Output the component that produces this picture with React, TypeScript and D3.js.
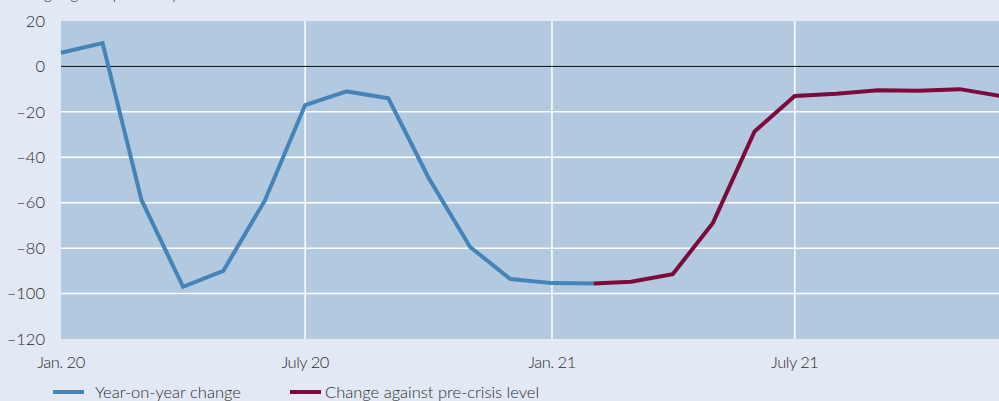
import React from 'react';
import * as d3 from 'd3';

const months = [
  '2020-01', '2020-02', '2020-03', '2020-04', '2020-05', '2020-06',
  '2020-07', '2020-08', '2020-09', '2020-10', '2020-11', '2020-12',
  '2021-01', '2021-02', '2021-03', '2021-04', '2021-05', '2021-06',
  '2021-07', '2021-08', '2021-09', '2021-10', '2021-11', '2021-12',
];

// year-on-year change, Jan. 20 - Feb. 21
const yoyValues = [6, 10.3, -58.8, -97, -90, -59, -17, -11, -14, -49, -79.5, -93.6, -95.4, -95.6];
// change against pre-crisis level, Feb. 21 - Dec. 21
const preCrisisValues = [-95.6, -94.8, -91.5, -68.9, -28.6, -13, -12, -10.5, -10.7, -10, -13];

const yTicks = [20, 0, -20, -40, -60, -80, -100, -120];
const xTicks = ['2020-01', '2020-07', '2021-01', '2021-07'];
const xTickLabels = ['Jan. 20', 'July 20', 'Jan. 21', 'July 21'];

const legendItems = [
  { label: 'Year-on-year change', color: '#4584b9', x: 53, textX: 95 },
  { label: 'Change against pre-crisis level', color: '#7c0a3a', x: 290, textX: 325 },
];

const width = 999;
const height = 401;
const margin = { top: 21, right: 0, bottom: 62, left: 61 };
const font = 'Lato, "Open Sans", sans-serif';
const textColor = '#2b2b2b';

export default function App() {
  const parse = d3.timeParse('%Y-%m');
  const dates = months.map(m => parse(m) as Date);

  const x = d3.scaleTime()
    .domain([dates[0], dates[dates.length - 1]])
    .range([margin.left, 1000]);
  const y = d3.scaleLinear()
    .domain([-120, 20])
    .range([height - margin.bottom, margin.top]);

  const line = d3.line<[Date, number]>()
    .x(d => x(d[0]))
    .y(d => y(d[1]));

  const yoyData = yoyValues.map((v, i) => [dates[i], v] as [Date, number]);
  const preStart = yoyValues.length - 1;
  const preData = preCrisisValues.map((v, i) => [dates[preStart + i], v] as [Date, number]);

  const plotTop = y(20);
  const plotBottom = y(-120);

  return (
    <svg
      width={width}
      height={height}
      style={{ position: 'absolute', left: 0, top: 0 }}
      fontFamily={font}
      fontWeight={300}
    >
      <rect x={0} y={0} width={width} height={height} fill="#e2e9f4" />
      <text x={10} y={-1} fontSize={15} fill={textColor}>Change against previous year in %</text>
      <rect
        x={margin.left}
        y={plotTop}
        width={width - margin.left}
        height={plotBottom - plotTop}
        fill="#b2c9e0"
      />
      {yTicks.filter(t => t !== 20 && t !== -120 && t !== 0).map(t => (
        <line key={t} x1={margin.left} x2={width} y1={y(t)} y2={y(t)} stroke="#fff" strokeWidth={1.5} />
      ))}
      {xTicks.slice(1).map(t => (
        <line key={t} x1={x(parse(t) as Date)} x2={x(parse(t) as Date)} y1={plotTop} y2={plotBottom} stroke="#fff" strokeWidth={1.5} />
      ))}
      <line x1={margin.left} x2={width} y1={y(0)} y2={y(0)} stroke="#111" strokeWidth={1} />
      <path d={line(yoyData) || ''} fill="none" stroke={legendItems[0].color} strokeWidth={4} />
      <path d={line(preData) || ''} fill="none" stroke={legendItems[1].color} strokeWidth={4} />
      {yTicks.map(t => (
        <text key={t} x={45} y={y(t)} dy="0.35em" textAnchor="end" fontSize={16.5} fill={textColor}>
          {t < 0 ? `\u2013${Math.abs(t)}` : t}
        </text>
      ))}
      {xTicks.map((t, i) => (
        <text key={t} x={x(parse(t) as Date)} y={368} textAnchor="middle" fontSize={16.5} fill={textColor} letterSpacing={-0.5}>
          {xTickLabels[i]}
        </text>
      ))}
      {legendItems.map(item => (
        <g key={item.label}>
          <rect x={item.x} y={390} width={31} height={4} fill={item.color} />
          <text x={item.textX} y={398} fontSize={16.5} fill={textColor}>{item.label}</text>
        </g>
      ))}
    </svg>
  );
}
